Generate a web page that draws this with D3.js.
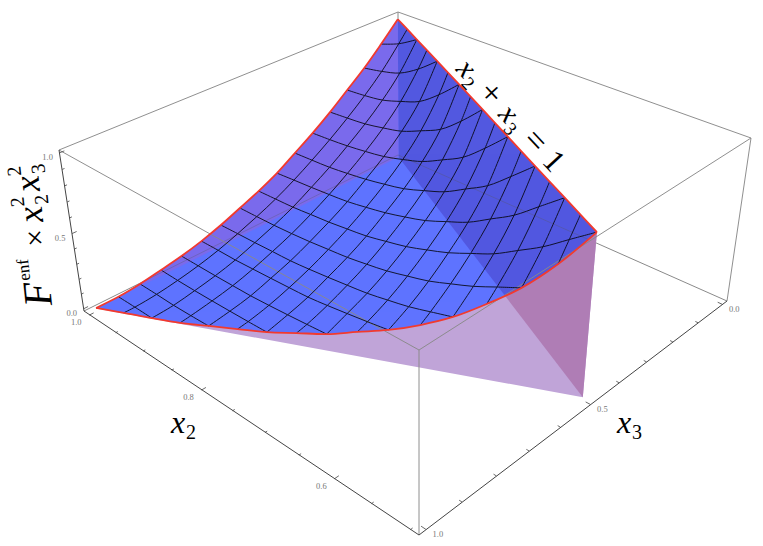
<!DOCTYPE html>
<html><head><meta charset="utf-8"><script src="https://cdn.jsdelivr.net/npm/d3@7"></script>
<style>html,body{margin:0;background:#fff}</style></head><body><svg id="c" width="763" height="546"></svg>
<script>
// ---------- data ----------
const x2Mesh=[1,.96875,.9375,.90625,.875,.84375,.8125,.78125,.75,.71875,.6875,.65625,.625,.59375,.5625,.53125,.5];
const x3Mesh=[0,.0625,.125,.1875,.25,.3125,.375,.4375,.5,.5625,.625,.6875,.75,.8125,.875,.9375,1];
// surface height at (x2Mesh[j], x3Mesh[k]): one row per x3, starting at x2 = 1
const surfaceZ=[
[1.0],
[.878,.926,1.0],
[.763,.788,.825,.900,1.0],
[.663,.675,.695,.737,.788,.883,1.0],
[.564,.575,.588,.614,.646,.703,.767,.873,.999],
[.474,.483,.495,.513,.535,.572,.616,.684,.758,.871,.997],
[.393,.400,.408,.424,.443,.469,.499,.547,.600,.678,.759,.874,.995],
[.313,.323,.332,.343,.356,.379,.405,.440,.480,.537,.597,.681,.767,.880,.994],
[.250,.255,.260,.272,.283,.300,.318,.348,.380,.425,.474,.537,.602,.689,.778,.886,.993],
[.196,.198,.201,.208,.218,.232,.246,.268,.293,.329,.367,.420,.475,.542,.608],
[.143,.147,.150,.155,.159,.171,.186,.203,.221,.249,.279,.320,.362],
[.099,.101,.101,.107,.113,.120,.128,.145,.165,.186,.209],
[.065,.065,.065,.067,.069,.077,.087,.098,.110],
[.040,.037,.037,.039,.042,.046,.051],
[.017,.016,.013,.016,.021],
[.004,.005,.004],
[.004]];
// edge heights at the odd x2 mesh levels, which fall between x3 mesh levels
const edgeSumOne=[1.0,1.0,1.0,1.0,.998,.996,.994,.993];   // x2 + x3 = 1
const edgeEqual=[.005,.007,.036,.081,.160,.276,.477,.781]; // x2 = x3
const x2Ticks=[1,.95,.9,.85,.8,.75,.7,.65,.6,.55,.5], x2Major=[[1,"1.0"],[.8,"0.8"],[.6,"0.6"]];
const x3Ticks=[0,.1,.2,.3,.4,.5,.6,.7,.8,.9,1], x3Major=[[0,"0.0"],[.5,"0.5"],[1,"1.0"]];
const zTicks=[0,.1,.2,.3,.4,.5,.6,.7,.8,.9,1], zMajor=[[0,"0.0"],[.5,"0.5"],[1,"1.0"]];

// ---------- perspective: box corners fitted to a 3D projective map ----------
const box=[[1,1,0,84,311],[.5,1,0,419,535],[.5,0,0,727,301],[1,0,0,398,155],[1,1,1,59,150],[.5,1,1,419,350],[.5,0,1,751,138],[1,0,1,398,12]];
const su=d3.scaleLinear().domain([1.01,.49]).range([1,.5]),sv=d3.scaleLinear().domain([-.02,1.02]).range([0,1]),sw=d3.scaleLinear().domain([-.02,1.02]).range([0,1]);
function solve(A,b){const n=b.length;for(let i=0;i<n;i++){let p=i;for(let r=i+1;r<n;r++)if(Math.abs(A[r][i])>Math.abs(A[p][i]))p=r;[A[i],A[p]]=[A[p],A[i]];[b[i],b[p]]=[b[p],b[i]];for(let r=i+1;r<n;r++){const f=A[r][i]/A[i][i];for(let c=i;c<n;c++)A[r][c]-=f*A[i][c];b[r]-=f*b[i];}}const x=Array(n);for(let i=n-1;i>=0;i--){let s=b[i];for(let c=i+1;c<n;c++)s-=A[i][c]*x[c];x[i]=s/A[i][i];}return x;}
const rows=[],rhs=[];box.forEach(([X,Y,Z,x,y])=>{rows.push([X,Y,Z,1,0,0,0,0,-x/500*X,-x/500*Y,-x/500*Z]);rhs.push(x/500);rows.push([0,0,0,0,X,Y,Z,1,-y/500*X,-y/500*Y,-y/500*Z]);rhs.push(y/500);});
const N=d3.range(11).map(i=>d3.range(11).map(j=>d3.sum(rows,r=>r[i]*r[j])));const R=d3.range(11).map(i=>d3.sum(rows,(r,q)=>r[i]*rhs[q]));
const P=solve(N,R);
const proj=(a,b,c)=>{const X=su(a),Y=sv(b),Z=sw(c),w=P[8]*X+P[9]*Y+P[10]*Z+1;return[500*(P[0]*X+P[1]*Y+P[2]*Z+P[3])/w,500*(P[4]*X+P[5]*Y+P[6]*Z+P[7])/w];};

const svg=d3.select("#c");
const line=d3.line(),cr=d3.line().curve(d3.curveCatmullRom.alpha(.5));
const oddIdx=j=>(j-1)/2;
const p3=a=>proj(a[0],a[1],a[2]);
const AC=x3Mesh.map((b,k)=>[1,b,surfaceZ[k][0]]);
const AB=x2Mesh.map((a,j)=>[a,1-a,j%2?edgeSumOne[oddIdx(j)]:surfaceZ[j/2][j]]);
const CB=x2Mesh.map((a,j)=>[a,a,j%2?edgeEqual[oddIdx(j)]:surfaceZ[16-j/2][j]]); // from x2=1 to x2=.5
const acPts=AC.map(p3),abPts=AB.map(p3),cbPts=CB.map(p3);
const toL=d=>d.replace(/^M/,"L");
const outlineD=cr(acPts)+toL(cr(cbPts))+toL(cr(abPts.slice().reverse()))+"Z";
svg.append("defs").append("clipPath").attr("id","s").append("path").attr("d",outlineD);

const bc=box.map(b=>[b[3],b[4]]);
const edge=(g,a,b,col,o)=>g.append("line").attr("x1",bc[a][0]).attr("y1",bc[a][1]).attr("x2",bc[b][0]).attr("y2",bc[b][1]).attr("stroke",col).attr("opacity",o);
// back edges lie behind the surface
[[2,3],[3,0],[3,7]].forEach(([a,b])=>edge(svg,a,b,"#8a8a8a",1));

// under-surface walls
const wallAB=[proj(1,0,0),proj(.5,.5,0),proj(.5,.5,AB[16][2]),proj(1,0,AB[0][2])];
svg.append("path").attr("d",line([proj(1,1,0),proj(.5,.5,0),...cbPts.slice().reverse()])+"Z").attr("fill","#c0a4d8");
svg.append("path").attr("d",line(wallAB)+"Z").attr("fill","#af7db5");
// surface and the walls seen through it
svg.append("path").attr("d",outlineD).attr("fill","#5f73ff");
const ov=svg.append("g").attr("clip-path","url(#s)");
ov.append("path").attr("d",line(wallAB)+"Z").attr("fill","#5258e0");
ov.append("path").attr("d",line([proj(1,1,0),proj(1,0,0),proj(1,0,1.02),proj(1,1,1.02)])+"Z").attr("fill","#7a6aec");
[[2,3],[3,0]].forEach(([a,b])=>edge(ov,a,b,"#555",.3));

// front box edges
[[4,5],[5,6],[6,7],[7,4],[1,5],[2,6]].forEach(([a,b])=>edge(svg,a,b,"#8a8a8a",.95));
[[0,1],[1,2],[0,4]].forEach(([a,b])=>edge(svg,a,b,"#444",1));

// mesh
const mesh=svg.append("g").attr("fill","none").attr("stroke","#000").attr("opacity",.8);
surfaceZ.forEach((row,k)=>{if(k>0&&k<16)mesh.append("path").attr("d",cr(row.map((z,j)=>proj(x2Mesh[j],x3Mesh[k],z))));});
x2Mesh.forEach((a,j)=>{if(j===0||j===16)return;const pts=[];if(j%2)pts.push([a,1-a,edgeSumOne[oddIdx(j)]]);surfaceZ.forEach((r,k)=>{if(j<r.length)pts.push([a,x3Mesh[k],r[j]]);});if(j%2)pts.push([a,a,edgeEqual[oddIdx(j)]]);mesh.append("path").attr("d",cr(pts.map(p3)));});
[acPts,abPts,cbPts].forEach(p=>svg.append("path").attr("d",cr(p)).attr("fill","none").attr("stroke","#f23a2e").attr("stroke-width",1.8));

// ticks
const tk=svg.append("g").attr("stroke","#444").attr("stroke-width",.8);
const seg=(a,b)=>tk.append("line").attr("x1",a[0]).attr("y1",a[1]).attr("x2",b[0]).attr("y2",b[1]);
const isMaj=(list,t)=>list.some(m=>m[0]===t);
x2Ticks.forEach(t=>seg(proj(t,1.02,-.02),proj(t,isMaj(x2Major,t)?1.008:1.014,-.02)));
x3Ticks.forEach(t=>seg(proj(.49,t,-.02),proj(isMaj(x3Major,t)?.496:.4935,t,-.02)));
zTicks.forEach(t=>seg(proj(1.01,1.02,t),proj(1.01,isMaj(zMajor,t)?1.008:1.014,t)));
const lab=(s,p,dx,dy)=>svg.append("text").text(s).attr("x",p[0]+dx).attr("y",p[1]+dy).attr("font-family","Liberation Serif").attr("font-size",8.5).attr("fill","#777").attr("text-anchor","middle");
x2Major.forEach(([t,s])=>lab(s,proj(t,1.02,-.02),-13,10));
x3Major.forEach(([t,s])=>lab(s,proj(.49,t,-.02),12,8));
zMajor.forEach(([t,s])=>lab(s,proj(1.01,1.02,t),-12,7));

// math labels
function math(tr,pieces){const t=svg.append("text").attr("transform",tr).attr("font-family","Liberation Serif").attr("fill","#000");pieces.forEach(p=>t.append("tspan").text(p[0]).attr("x",p[1]).attr("y",p[2]).attr("font-size",p[3]).attr("font-style",p[4]?"italic":"normal"));}
math("translate(171,433)",[["x",0,0,32,1],["2",15,6,20,0]]);
math("translate(617,433)",[["x",0,0,32,1],["3",15,6,20,0]]);
math("translate(455,70) rotate(47)",[["x",0,0,30,1],["2",14,6,19,0],["+",32,0,34,0],["x",62,0,30,1],["3",76,6,19,0],["=",97,0,34,0],["1",126,0,32,0]]);
math("translate(52,305) rotate(-96)",[["F",0,0,40,1],["enf",27,-19,17,0],["×",60,0,30,0],["x",84,0,36,1],["2",101,-17,20,0],["2",101,7,20,0],["x",115,0,36,1],["2",132,-17,20,0],["3",132,7,20,0]]);
</script></body></html>
